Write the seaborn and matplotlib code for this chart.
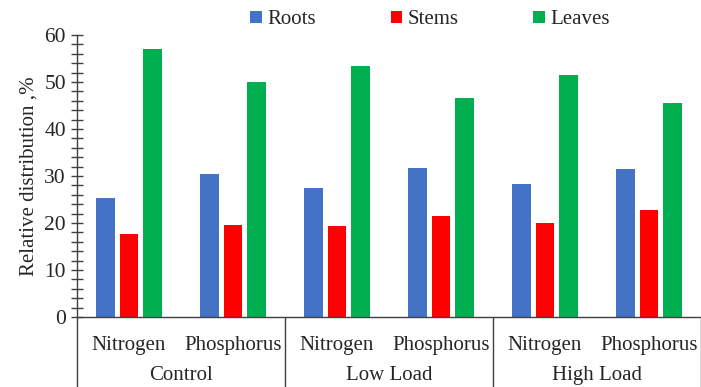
import numpy as np
import pandas as pd
import matplotlib
matplotlib.use("Agg")
import matplotlib.pyplot as plt
import matplotlib.transforms as mtransforms
from matplotlib.patches import Patch
from matplotlib.ticker import MultipleLocator
import seaborn as sns

# Data: relative biomass distribution (%) by organ
groups = ["Control", "Low Load", "High Load"]
nutrients = ["Nitrogen", "Phosphorus"]
parts = ["Roots", "Stems", "Leaves"]
roots = [25.3, 30.4, 27.4, 31.6, 28.2, 31.4]
stems = [17.6, 19.6, 19.3, 21.5, 20.1, 22.7]
leaves = [57.0, 49.9, 53.3, 46.5, 51.4, 45.5]
colors = ["#4472C4", "#FF0000", "#00B050"]

cats = [f"{g}|{n}" for g in groups for n in nutrients]
rows = []
for part, vals in zip(parts, [roots, stems, leaves]):
    for c, v in zip(cats, vals):
        rows.append({"cat": c, "part": part, "value": v})
df = pd.DataFrame(rows)

sns.set_style("white")
plt.rcParams["font.family"] = ["Liberation Serif", "DejaVu Serif"]
plt.rcParams["font.size"] = 15

fig = plt.figure(figsize=(7.01, 3.87), dpi=100)
ax = fig.add_axes([77 / 701, 70 / 387, 624 / 701, 282 / 387])

sns.barplot(data=df, x="cat", y="value", hue="part", order=cats,
            hue_order=parts, palette=colors, saturation=1, width=0.67,
            gap=0.2, edgecolor="none", ax=ax, legend=False)

ax.set_ylim(0, 60)
ax.set_xlim(-0.5, 5.5)
ax.yaxis.set_major_locator(MultipleLocator(10))
ax.yaxis.set_minor_locator(MultipleLocator(2))
ax.tick_params(axis="y", which="both", direction="inout", left=True,
               length=8, width=1, color="#404040", labelsize=15.5, pad=4)
ax.tick_params(axis="y", which="minor", length=8)
ax.tick_params(axis="x", bottom=False, labelsize=15, pad=10)
ax.set_xticks(range(len(cats)))
ax.set_xticklabels([c.split("|")[1] for c in cats])
ax.set_xlabel("")
ax.set_ylabel("Relative distribution ,%", fontsize=15, labelpad=4)

for side in ["top", "right"]:
    ax.spines[side].set_visible(False)
for side in ["left", "bottom"]:
    ax.spines[side].set_color("#404040")
    ax.spines[side].set_linewidth(1)

# Group separators and group labels below the axis
trans = mtransforms.blended_transform_factory(ax.transData, ax.transAxes)
for xb in [-0.5, 1.5, 3.5, 5.5]:
    ax.plot([xb, xb], [0, -0.3], transform=trans, color="#404040",
            lw=1, clip_on=False)
for i, g in enumerate(groups):
    ax.text(2 * i + 0.5, -0.222, g, transform=trans, ha="center",
            va="baseline", fontsize=15)

handles = [Patch(facecolor=c, edgecolor="none") for c in colors]
fig.legend(handles, parts, loc="center", bbox_to_anchor=(430 / 701, 1 - 20 / 387),
           ncol=3, frameon=False, fontsize=15, handlelength=0.55,
           handleheight=0.55, handletextpad=0.25, columnspacing=3.6,
           borderpad=0)

fig.savefig("out.png", dpi=100)
